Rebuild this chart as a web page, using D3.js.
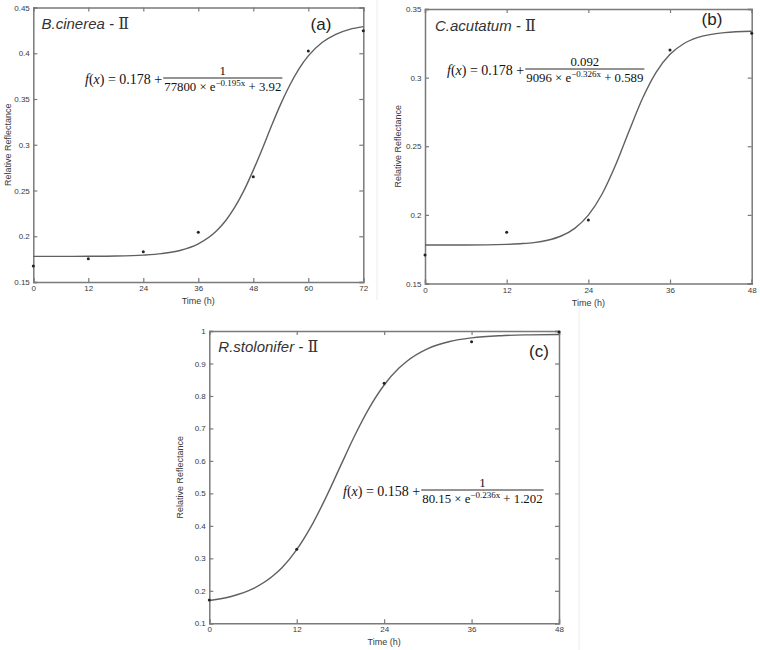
<!DOCTYPE html>
<html>
<head>
<meta charset="utf-8">
<script src="https://cdn.jsdelivr.net/npm/d3@7"></script>
<style>
  html, body { margin: 0; padding: 0; background: #fff; }
  svg { display: block; }
</style>
</head>
<body>
<svg id="chart" width="760" height="650"></svg>
<script>
// ---------- DATA ----------
// Panel (a) B.cinerea
const aPointsX = [0, 12, 24, 36, 48, 60, 72];
const aPointsY = [0.1675, 0.1755, 0.1831, 0.2043, 0.265, 0.4025, 0.4245];
const aCurveX = [0, 6, 12, 18, 24, 28, 32, 36, 40, 42, 44, 46, 48, 50, 52, 54, 56, 58, 60, 63, 66, 69, 72];
const aCurveY = [0.178, 0.178, 0.1781, 0.1784, 0.1794, 0.181, 0.1844, 0.1916, 0.2059, 0.2172, 0.232, 0.2504, 0.2723, 0.296, 0.321, 0.3447, 0.3656, 0.3833, 0.3971, 0.4117, 0.4207, 0.4261, 0.4291];
const aXTicks = [0, 12, 24, 36, 48, 60, 72];
const aYTicks = [0.15, 0.2, 0.25, 0.3, 0.35, 0.4, 0.45];

// Panel (b) C.acutatum
const bPointsX = [0, 12, 24, 36, 48];
const bPointsY = [0.1708, 0.1873, 0.1963, 0.3201, 0.3323];
const bCurveX = [0, 6, 12, 14, 16, 18, 20, 22, 24, 26, 28, 30, 32, 34, 36, 38, 40, 44, 48];
const bCurveY = [0.178, 0.178, 0.1785, 0.179, 0.1798, 0.1815, 0.1846, 0.1902, 0.1998, 0.215, 0.2363, 0.2613, 0.2853, 0.3042, 0.317, 0.3247, 0.3291, 0.3328, 0.3338];
const bXTicks = [0, 12, 24, 36, 48];
const bYTicks = [0.15, 0.2, 0.25, 0.3, 0.35];

// Panel (c) R.stolonifer
const cPointsX = [0, 12, 24, 36, 48];
const cPointsY = [0.1717, 0.328, 0.839, 0.967, 0.997];
const cCurveX = [0, 3, 6, 9, 10, 12, 14, 16, 18, 20, 22, 24, 26, 27, 30, 33, 36, 40, 44, 48];
const cCurveY = [0.1703, 0.1826, 0.2064, 0.2508, 0.272, 0.3269, 0.3991, 0.487, 0.5839, 0.6797, 0.7648, 0.8337, 0.885, 0.9048, 0.9457, 0.9676, 0.9788, 0.9856, 0.9882, 0.9893];
const cXTicks = [0, 12, 24, 36, 48];
const cYTicks = [0.1, 0.2, 0.3, 0.4, 0.5, 0.6, 0.7, 0.8, 0.9, 1];

const titles = ["B.cinerea", "C.acutatum", "R.stolonifer"];
const tags = ["(a)", "(b)", "(c)"];
const formulaConst = ["0.178", "0.178", "0.158"];
const formulaNum = ["1", "0.092", "1"];
const formulaDenA = ["77800", "9096", "80.15"];
const formulaExp = ["\u22120.195x", "\u22120.326x", "\u22120.236x"];
const formulaDenB = ["3.92", "0.589", "1.202"];
const xLabel = "Time (h)";
const yLabel = "Relative Reflectance";

// ---------- LAYOUT ----------
const panels = [
  { L: 33.3, R: 363.3, T: 7.5, B: 282, xd: [0, 72], yd: [0.15, 0.45],
    px: aPointsX, py: aPointsY, cx: aCurveX, cy: aCurveY, xt: aXTicks, yt: aYTicks,
    title: [41.5, 29], tag: [321, 29.5], fx: 85, fy: 78, ylx: 8 },
  { L: 425, R: 751.7, T: 9, B: 283.5, xd: [0, 48], yd: [0.15, 0.35],
    px: bPointsX, py: bPointsY, cx: bCurveX, cy: bCurveY, xt: bXTicks, yt: bYTicks,
    title: [435, 31], tag: [712, 25], fx: 447, fy: 69, ylx: 398 },
  { L: 209.3, R: 559, T: 331, B: 623.3, xd: [0, 48], yd: [0.1, 1],
    px: cPointsX, py: cPointsY, cx: cCurveX, cy: cCurveY, xt: cXTicks, yt: cYTicks,
    title: [218.3, 352], tag: [539, 356.5], fx: 343, fy: 490, ylx: 180 }
];

const svg = d3.select("#chart");
const sans = "'Liberation Sans', Arial, Helvetica, sans-serif";
const serif = "'Liberation Serif', 'DejaVu Serif', 'Times New Roman', serif";
const axisColor = "#7a7a7a";
const textColor = "#3a3a3a";

// faint borders of the composed sub-images
svg.append("line").attr("x1", 377).attr("x2", 377).attr("y1", 0).attr("y2", 300)
  .attr("stroke", "#ececec").attr("stroke-width", 1);
svg.append("line").attr("x1", 579).attr("x2", 579).attr("y1", 305).attr("y2", 650)
  .attr("stroke", "#ececec").attr("stroke-width", 1);

panels.forEach((p, i) => {
  const x = d3.scaleLinear().domain(p.xd).range([p.L, p.R]);
  const y = d3.scaleLinear().domain(p.yd).range([p.B, p.T]);
  const g = svg.append("g");

  const fmtY = d => String(+d.toFixed(2));

  // axes (inward ticks, MATLAB style box)
  const axB = g.append("g").attr("transform", `translate(0,${p.B})`)
    .call(d3.axisBottom(x).tickValues(p.xt).tickSize(-4).tickPadding(3.5).tickFormat(d3.format("d")));
  const axT = g.append("g").attr("transform", `translate(0,${p.T})`)
    .call(d3.axisTop(x).tickValues(p.xt).tickSize(-4).tickFormat(""));
  const axL = g.append("g").attr("transform", `translate(${p.L},0)`)
    .call(d3.axisLeft(y).tickValues(p.yt).tickSize(-4).tickPadding(3.5).tickFormat(fmtY));
  const axR = g.append("g").attr("transform", `translate(${p.R},0)`)
    .call(d3.axisRight(y).tickValues(p.yt).tickSize(-4).tickFormat(""));
  [axB, axT, axL, axR].forEach(a => {
    a.select(".domain").attr("stroke", axisColor).attr("stroke-width", 1.5);
    a.selectAll(".tick line").attr("stroke", axisColor).attr("stroke-width", 1.2);
    a.selectAll(".tick text").attr("fill", textColor).attr("font-family", sans).attr("font-size", 8);
  });

  // axis labels
  g.append("text").attr("x", (p.L + p.R) / 2).attr("y", p.B + 22)
    .attr("text-anchor", "middle").attr("font-family", sans).attr("font-size", 9)
    .attr("fill", textColor).text(xLabel);
  g.append("text").attr("transform", `translate(${p.ylx},${(p.T + p.B) / 2}) rotate(-90)`)
    .attr("text-anchor", "middle").attr("dy", "0.35em").attr("font-family", sans).attr("font-size", 9)
    .attr("fill", textColor).text(yLabel);

  // fitted curve
  const curvePts = p.cx.map((v, k) => [v, p.cy[k]]);
  g.append("path").datum(curvePts)
    .attr("fill", "none").attr("stroke", "#606060").attr("stroke-width", 1.4)
    .attr("d", d3.line().x(d => x(d[0])).y(d => y(d[1])).curve(d3.curveMonotoneX));

  // measured points
  g.selectAll("circle.pt").data(p.px.map((v, k) => [v, p.py[k]])).enter()
    .append("circle").attr("class", "pt")
    .attr("cx", d => x(d[0])).attr("cy", d => y(d[1])).attr("r", 1.5).attr("fill", "#222");

  // title
  const t = g.append("text").attr("x", p.title[0]).attr("y", p.title[1])
    .attr("font-family", sans).attr("font-size", 15).attr("fill", "#333");
  t.append("tspan").attr("font-style", "italic").text(titles[i] + " - ");
  t.append("tspan").attr("font-family", serif).attr("font-size", 16).text("\u2161");

  // tag
  g.append("text").attr("x", p.tag[0]).attr("y", p.tag[1]).attr("text-anchor", "middle")
    .attr("font-family", sans).attr("font-size", 17).attr("fill", "#222").text(tags[i]);

  // formula
  const fs = 14, fsd = 12.8;
  const main = g.append("text").attr("x", p.fx).attr("y", p.fy + 5.5)
    .attr("font-family", serif).attr("font-size", fs).attr("fill", "#111");
  main.append("tspan").attr("font-style", "italic").text("f");
  main.append("tspan").text("(");
  main.append("tspan").attr("font-style", "italic").text("x");
  main.append("tspan").text(") = " + formulaConst[i] + " + ");
  const mw = main.node().getComputedTextLength();

  const den = g.append("text").attr("y", p.fy + 12.5)
    .attr("font-family", serif).attr("font-size", fsd).attr("fill", "#111");
  den.append("tspan").text(formulaDenA[i] + " \u00d7 e");
  den.append("tspan").attr("font-size", 9).attr("dy", -5).text(formulaExp[i]);
  den.append("tspan").attr("dy", 5).text(" + " + formulaDenB[i]);
  const dw = den.node().getComputedTextLength();
  const fx0 = p.fx + mw + 1;
  den.attr("x", fx0 + 1);
  const fracW = dw + 2;
  g.append("line").attr("x1", fx0).attr("x2", fx0 + fracW)
    .attr("y1", p.fy).attr("y2", p.fy).attr("stroke", "#111").attr("stroke-width", 0.9);
  g.append("text").attr("x", fx0 + fracW / 2).attr("y", p.fy - 3.5).attr("text-anchor", "middle")
    .attr("font-family", serif).attr("font-size", fsd).attr("fill", "#111").text(formulaNum[i]);
});
</script>
</body>
</html>
